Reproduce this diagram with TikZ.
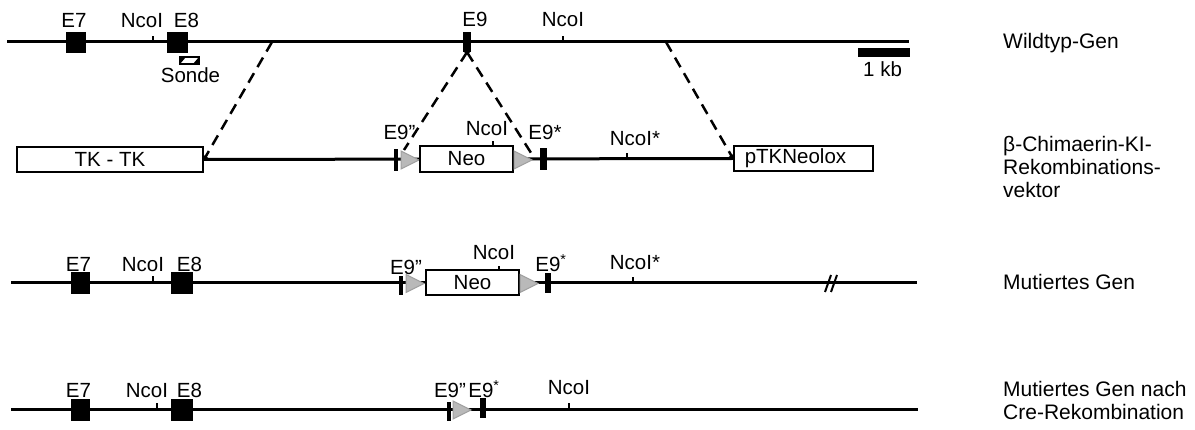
\documentclass[tikz,border=0pt]{standalone}
\usepackage{fontspec}
\setmainfont{Liberation Sans}
\usetikzlibrary{arrows.meta}

\tikzset{
  gene/.style={line width=3pt},
  exon/.style={fill=black, inner sep=0pt, minimum width=20pt, minimum height=21pt},
  exbar/.style={fill=black, inner sep=0pt, minimum width=5pt, minimum height=21pt},
  cassette/.style={draw, line width=2pt, fill=white, inner sep=0pt, minimum height=25pt,
    font=\fontsize{20.5}{22}\selectfont},
  lox/.style={fill=gray!55, draw=gray!75, line width=1pt},
  site/.style={line width=2pt},
  arm/.style={line width=2.5pt, dash pattern=on 11pt off 7pt},
  lbl/.style={inner sep=0pt, font=\fontsize{20.5}{22}\selectfont, anchor=base},
  rowlbl/.style={inner sep=0pt, font=\fontsize{21}{23}\selectfont, align=left, anchor=base west},
}

\begin{document}
\begin{tikzpicture}[x=1pt,y=-1pt]
  \useasboundingbox (0,0) rectangle (1195,430);

  % Wildtyp-Gen
  \coordinate (wtL) at (7,42);
  \coordinate (wtR) at (909,42);
  \draw[gene] (wtL) -- (wtR);
  \node[exon] (wtE7) at (76,42.5) {};
  \node[exon, minimum width=21pt] (wtE8) at (177.5,42.5) {};
  \node[exbar, minimum width=8pt, minimum height=20pt] (wtE9) at (467,42) {};
  \fill (463,51) -- (471,51) -- (467,55) -- cycle;
  \foreach \x in {153,563} {
    \draw[site] (\x,42) -- (\x,36);
  }
  \node[lbl] (wtE7t) at (74,28) {E7};
  \node[lbl] (wtNt) at (142,28) {NcoI};
  \node[lbl] (wtE8t) at (186.5,28) {E8};
  \node[lbl] (wtE9t) at (475,27) {E9};
  \node[lbl] (wtN2t) at (563,27) {NcoI};
  % Sonde
  \draw[line width=1.5pt] (180,57) rectangle (199,64);
  \fill (180,64) -- (186,57) -- (181,57) -- (180,58) -- cycle;
  \fill (199,57) -- (193,64) -- (198,64) -- (199,63) -- cycle;
  \node[lbl] (sonde) at (190.5,83) {Sonde};
  % 1 kb scale
  \fill (858,48) rectangle (910,57);
  \node[lbl, anchor=base west] (kb) at (863,77) {1 kb};
  \node[rowlbl] (wtName) at (1003,49) {Wildtyp-Gen};

  % Rekombinationsvektor
  \node[cassette, minimum width=186pt] (tk) at (110,159.5) {TK - TK};
  \node[cassette, minimum width=139pt] (ptk) at (803.5,158.5) {\hspace*{-16pt}pTKNeolox};
  \draw[gene] (tk.east) -- (ptk.west);
  \node[exbar, minimum width=4pt, minimum height=22pt] (vE9a) at (396,160) {};
  \filldraw[lox] (401,151) -- (419,160) -- (401,169) -- cycle;
  \node[cassette, minimum width=93pt, minimum height=26pt] (vNeo) at (466.5,159) {Neo};
  \filldraw[lox] (514,151) -- (532,160) -- (514,169) -- cycle;
  \node[exbar, minimum width=7pt, minimum height=22pt] (vE9b) at (543,159) {};
  \draw[site] (493,146) -- (493,141);
  \draw[site] (627,159) -- (627,153);
  \node[lbl] (vE9at) at (399.5,140) {E9”};
  \node[lbl] (vNt) at (487,136) {NcoI};
  \node[lbl] (vE9bt) at (545,140) {E9*};
  \node[lbl] (vN2t) at (635,146) {NcoI*};
  \node[rowlbl] (vName) at (1003,198) {β-Chimaerin-KI-\\Rekombinations-\\vektor};

  % homologe Bereiche
  \coordinate (armA) at (272,42);
  \coordinate (armB) at (666,42);
  \coordinate (e9L) at (404,150);
  \coordinate (e9R) at (533,156);
  \draw[arm, -{To[length=4pt,width=6pt]}] (armA) -- (tk.east);
  \draw[arm, -{To[length=4pt,width=6pt]}] (armB) -- (ptk.west);
  \draw[arm] (wtE9.south) -- (e9L);
  \draw[arm] (wtE9.south) -- (e9R);

  % Mutiertes Gen
  \coordinate (mtL) at (11,283);
  \coordinate (mtR) at (917,283);
  \draw[gene] (mtL) -- (mtR);
  \node[exbar, minimum width=4pt, minimum height=19pt] (mtE9a) at (401,285.5) {};
  \filldraw[lox] (406,274.5) -- (424,283.5) -- (406,292.5) -- cycle;
  \node[cassette, minimum width=93pt] (mtNeo) at (472.5,282.5) {Neo};
  \filldraw[lox] (520,274.5) -- (538,283.5) -- (520,292.5) -- cycle;
  \node[exbar, minimum width=6pt, minimum height=20pt] (mtE9b) at (548,283) {};
  \draw[site] (499,270) -- (499,266);
  \draw[site] (633,283) -- (633,277);
  \draw[site] (825,292) -- (831,275);
  \draw[site] (831,292) -- (837,275);
  \node[lbl] (mtE9at) at (406,275) {E9”};
  \node[lbl] (mtNt2) at (494,260) {NcoI};
  \node[lbl] (mtE9bt) at (551,272) {E9\textsuperscript{*}};
  \node[lbl] (mtN2t) at (635,270) {NcoI*};
  \node[rowlbl] (mtName) at (1003,290) {Mutiertes Gen};

  % Mutiertes Gen nach Cre-Rekombination
  \coordinate (crL) at (11,410);
  \coordinate (crR) at (918,410);
  \draw[gene] (crL) -- (crR);
  \node[exbar, minimum width=4pt, minimum height=19pt] (crE9a) at (449,411.5) {};
  \filldraw[lox] (453,401) -- (471,410) -- (453,419) -- cycle;
  \node[exbar, minimum width=6pt, minimum height=20pt] (crE9b) at (483,408) {};
  \draw[site] (569,410) -- (569,403);
  \node[lbl] (crE9at) at (450,398) {E9”};
  \node[lbl] (crE9bt) at (484,398) {E9\textsuperscript{*}};
  \node[lbl] (crN2t) at (569,395) {NcoI};
  \node[rowlbl] (crName) at (1003,420) {Mutiertes Gen nach\\Cre-Rekombination};

  % E7, E8 und NcoI in beiden mutierten Genen
  \foreach \r/\y/\n/\t in {mt/283/153/272, cr/410/157/398} {
    \node[exon, minimum width=19pt, minimum height=22pt] (\r-E7) at (80.5,\y) {};
    \node[exon, minimum width=22pt, minimum height=22pt] (\r-E8) at (182,\y) {};
    \draw[site] (\n,\y) -- (\n,\y-7);
    \node[lbl] (\r-E7t) at (78.5,\t) {E7};
    \node[lbl] (\r-Nt) at (\n-10,\t) {NcoI};
    \node[lbl] (\r-E8t) at (189.5,\t) {E8};
  }
\end{tikzpicture}
\end{document}
